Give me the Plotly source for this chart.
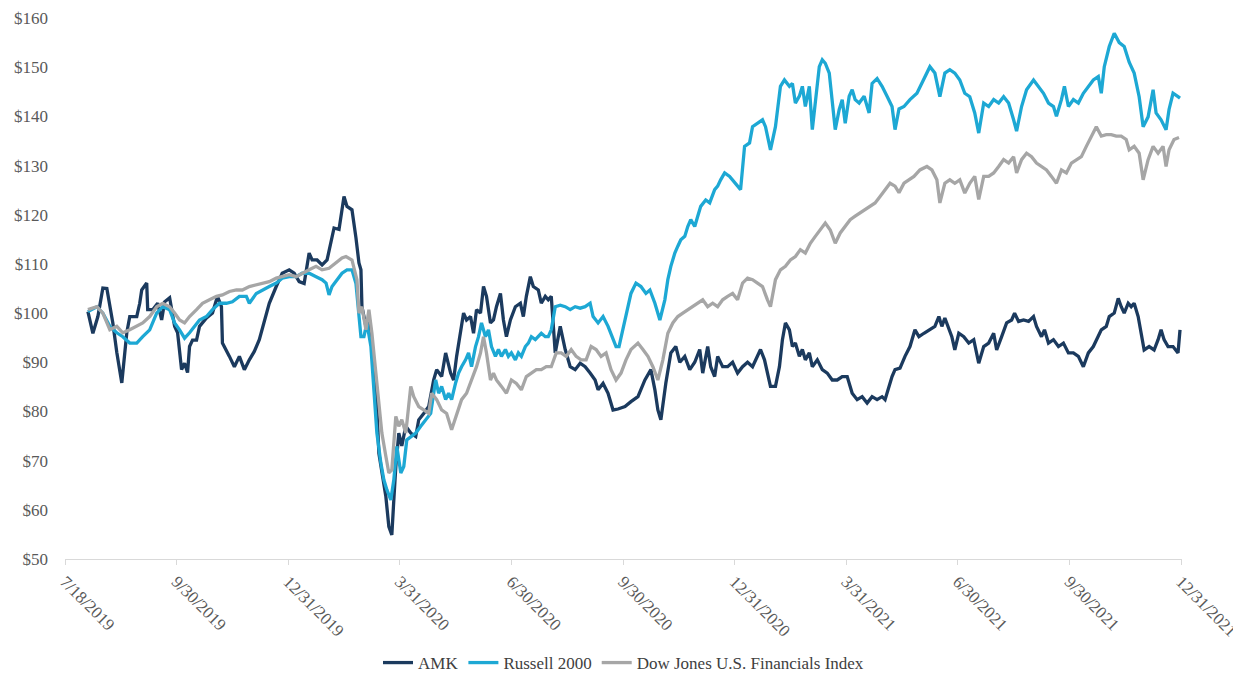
import plotly.graph_objects as go

# x positions: session index along the category axis (tick every 112 sessions)
tick_labels = ["7/18/2019", "9/30/2019", "12/31/2019", "3/31/2020", "6/30/2020",
               "9/30/2020", "12/31/2020", "3/31/2021", "6/30/2021", "9/30/2021", "12/31/2021"]
tick_step = 112

amk_day = [
    23, 28, 33, 38, 42, 45, 48, 52, 57, 62,
    65, 72, 75, 77, 82, 83, 88, 93, 97, 100,
    105, 110, 113, 117, 120, 123, 125, 128, 132, 135,
    142, 148, 153, 157, 158, 165, 170, 175, 180, 185,
    190, 195, 200, 205, 212, 218, 225, 230, 235, 240,
    245, 248, 253, 258, 263, 267, 270, 275, 280, 283,
    288, 292, 295, 297, 298, 302, 305, 308, 312, 315,
    318, 322, 325, 328, 330, 332, 335, 338, 342, 347,
    352, 355, 360, 365, 370, 373, 378, 382, 387, 390,
    393, 397, 400, 403, 407, 410, 413, 417, 420, 423,
    427, 430, 433, 437, 440, 443, 447, 452, 457, 460,
    463, 467, 470, 475, 478, 482, 485, 488, 492, 497,
    502, 507, 512, 517, 522, 527, 532, 535, 540, 545,
    550, 555, 562, 568, 575, 582, 588, 592, 595, 598,
    603, 608, 613, 617, 622, 627, 632, 637, 640, 645,
    648, 652, 655, 660, 665, 670, 675, 680, 685, 690,
    695, 698, 702, 705, 708, 713, 717, 720, 723, 727,
    730, 733, 737, 740, 743, 747, 750, 755, 760, 765,
    770, 775, 780, 785, 790, 795, 800, 805, 810, 815,
    820, 823, 827, 830, 833, 838, 843, 848, 853, 857,
    862, 868, 873, 877, 880, 883, 887, 890, 893, 897,
    902, 907, 912, 917, 922, 927, 932, 935, 940, 945,
    950, 953, 957, 962, 967, 972, 975, 980, 983, 987,
    992, 997, 1002, 1007, 1012, 1017, 1022, 1027, 1032, 1037,
    1040, 1045, 1048, 1053, 1057, 1060, 1063, 1067, 1070, 1073,
    1077, 1080, 1083, 1088, 1093, 1097, 1100, 1103, 1107, 1112,
    1117, 1119,
]
amk_value = [
    100.3, 95.9, 99.3, 105.1, 105.0, 101.3, 98.0, 92.0, 85.8, 96.0,
    99.3, 99.3, 102.0, 104.7, 106.1, 100.7, 100.7, 102.0, 98.6, 102.3,
    103.1, 97.3, 96.0, 88.5, 89.8, 87.9, 93.2, 94.5, 94.5, 97.3,
    99.0, 100.0, 103.4, 101.3, 93.9, 91.2, 89.1, 91.2, 88.5, 90.5,
    92.2, 94.6, 98.6, 102.0, 105.4, 108.1, 108.8, 108.1, 106.4, 106.0,
    112.2, 110.8, 110.8, 109.8, 110.8, 114.6, 117.3, 117.0, 123.7, 121.7,
    121.0, 115.3, 110.2, 108.8, 101.3, 97.3, 98.6, 93.2, 85.1, 71.5,
    67.5, 62.7, 56.6, 54.9, 62.0, 68.8, 75.6, 73.0, 77.0, 75.6,
    74.9, 78.3, 79.6, 81.0, 86.4, 88.5, 87.1, 91.9, 87.8, 86.4,
    91.2, 96.6, 100.0, 98.6, 99.3, 95.9, 100.7, 100.0, 105.4, 103.4,
    98.0, 98.6, 101.3, 104.0, 98.6, 95.2, 98.6, 101.3, 102.0, 99.3,
    103.4, 107.4, 105.4, 104.7, 102.0, 103.4, 102.7, 103.4, 91.9, 97.3,
    92.6, 89.1, 88.5, 89.8, 89.1, 87.8, 86.4, 84.4, 85.7, 83.7,
    80.3, 80.5, 81.0, 82.0, 83.0, 86.4, 88.5, 84.4, 80.3, 78.3,
    85.8, 91.9, 93.2, 90.0, 91.2, 88.5, 90.0, 92.6, 87.8, 93.2,
    89.1, 87.1, 91.2, 89.1, 89.1, 90.0, 87.8, 89.1, 90.0, 89.1,
    91.2, 92.6, 90.5, 87.8, 85.1, 85.1, 89.1, 94.6, 98.0, 96.6,
    93.2, 93.9, 91.2, 92.6, 90.5, 91.9, 89.1, 90.5, 88.5, 87.8,
    86.4, 86.4, 87.1, 87.1, 83.7, 82.4, 83.0, 81.7, 83.0, 82.4,
    83.0, 82.4, 85.1, 87.1, 88.5, 88.8, 91.2, 93.2, 96.6, 95.2,
    95.9, 96.6, 97.3, 99.3, 97.3, 99.0, 96.6, 95.2, 92.5, 95.9,
    95.2, 93.9, 94.6, 89.8, 93.2, 93.9, 95.9, 92.5, 95.2, 98.0,
    98.6, 100.0, 98.3, 98.6, 98.3, 99.3, 97.3, 95.2, 96.6, 93.9,
    94.6, 93.2, 93.9, 91.9, 91.9, 91.2, 89.1, 91.9, 93.2, 95.2,
    96.6, 97.3, 99.3, 100.0, 103.0, 101.3, 100.0, 102.0, 101.3, 102.0,
    99.3, 95.9, 92.5, 93.2, 92.5, 94.6, 96.6, 94.6, 93.2, 93.2,
    91.9, 96.6,
]

russell_day = [
    23, 32, 38, 45, 52, 58, 65, 72, 78, 85,
    92, 98, 105, 110, 115, 120, 125, 130, 135, 142,
    148, 155, 162, 168, 175, 182, 185, 192, 198, 205,
    212, 218, 225, 232, 238, 245, 252, 258, 262, 265,
    268, 273, 278, 283, 288, 292, 295, 297, 300, 303,
    307, 310, 313, 317, 320, 323, 327, 330, 333, 337,
    340, 343, 347, 352, 357, 362, 367, 372, 375, 378,
    382, 385, 388, 392, 395, 398, 402, 405, 408, 412,
    415, 418, 422, 425, 428, 432, 435, 438, 442, 445,
    448, 452, 455, 458, 462, 465, 468, 472, 475, 478,
    482, 485, 488, 492, 497, 502, 507, 512, 517, 522,
    527, 530, 535, 540, 545, 550, 553, 556, 562, 568,
    573, 578, 583, 587, 592, 597, 602, 605, 608, 612,
    615, 618, 622, 625, 628, 632, 635, 638, 643, 647,
    652, 655, 658, 662, 667, 672, 678, 682, 687, 690,
    695, 700, 703, 708, 713, 718, 722, 727, 730, 733,
    737, 740, 743, 747, 750, 753, 757, 760, 763, 767,
    770, 773, 777, 780, 783, 787, 790, 793, 797, 802,
    807, 810, 815, 820, 825, 830, 833, 837, 842, 848,
    855, 860, 865, 868, 873, 878, 883, 888, 893, 898,
    903, 908, 913, 917, 922, 927, 932, 937, 942, 947,
    952, 955, 960, 965, 972, 977, 982, 987, 992, 995,
    1000, 1003, 1007, 1012, 1017, 1022, 1027, 1032, 1037, 1040,
    1043, 1048, 1053, 1058, 1063, 1068, 1073, 1078, 1082, 1087,
    1092, 1095, 1100, 1105, 1108, 1112, 1117, 1119,
]
russell_value = [
    100.3, 101.3, 100.0, 97.3, 96.0, 95.2, 93.9, 93.9, 95.2, 96.6,
    100.0, 101.3, 100.7, 98.0, 96.6, 94.9, 96.0, 97.3, 98.6, 99.3,
    100.7, 102.0, 102.0, 102.3, 103.4, 103.4, 102.0, 104.0, 104.7, 105.4,
    106.1, 107.1, 107.4, 107.4, 108.1, 108.1, 107.4, 106.8, 106.1, 103.7,
    105.4, 106.8, 108.1, 108.8, 108.8, 106.0, 100.0, 95.2, 95.2, 98.0,
    93.2, 85.1, 75.6, 69.5, 66.1, 64.1, 62.0, 66.1, 72.9, 67.5,
    68.8, 74.2, 74.9, 75.6, 77.0, 78.3, 79.6, 86.4, 83.7, 85.1,
    82.4, 83.7, 82.4, 85.8, 87.8, 89.1, 90.5, 91.9, 89.1, 93.2,
    95.2, 98.0, 95.2, 96.6, 93.2, 91.2, 92.6, 91.2, 92.6, 91.2,
    91.9, 90.5, 91.9, 91.2, 93.2, 93.9, 95.2, 94.6, 95.2, 95.9,
    95.2, 95.2, 96.6, 101.3, 101.6, 101.3, 100.7, 101.3, 101.0, 101.3,
    102.0, 99.3, 98.0, 99.3, 97.3, 94.6, 93.2, 93.2, 98.6, 104.0,
    106.1, 105.4, 104.0, 104.7, 102.0, 98.6, 102.7, 106.8, 109.5, 112.2,
    113.6, 114.9, 115.6, 117.6, 119.0, 117.6, 119.7, 121.7, 123.0, 122.4,
    125.1, 125.8, 127.1, 128.5, 127.8, 126.5, 125.1, 133.9, 134.6, 137.9,
    138.6, 139.3, 137.9, 133.2, 137.9, 146.1, 147.4, 146.1, 146.7, 142.7,
    144.1, 146.1, 142.0, 146.1, 137.3, 143.4, 150.1, 151.5, 150.8, 148.8,
    142.7, 137.3, 141.4, 143.4, 138.6, 144.1, 145.4, 143.4, 142.7, 144.1,
    140.7, 146.7, 147.7, 146.1, 144.1, 142.0, 137.3, 141.5, 142.0, 143.4,
    144.7, 146.7, 148.8, 150.1, 148.8, 144.0, 148.8, 149.5, 148.8, 147.4,
    144.7, 144.0, 140.7, 136.6, 142.7, 142.0, 143.4, 142.7, 144.0, 142.7,
    139.3, 137.0, 142.0, 145.4, 147.4, 146.1, 144.7, 142.7, 142.0, 140.0,
    143.4, 146.1, 142.0, 143.4, 142.7, 144.7, 146.1, 147.4, 148.1, 144.7,
    150.1, 154.2, 156.9, 155.0, 154.2, 151.0, 148.8, 144.0, 137.9, 139.9,
    145.4, 140.7, 139.3, 137.3, 141.4, 144.7, 144.0, 143.7,
]

dow_day = [
    23, 32, 38, 45, 52, 58, 65, 72, 78, 85,
    92, 98, 105, 110, 115, 120, 125, 132, 138, 145,
    152, 158, 165, 172, 178, 185, 192, 198, 205, 212,
    218, 225, 232, 238, 245, 252, 258, 265, 272, 278,
    282, 288, 293, 295, 298, 302, 305, 308, 312, 315,
    318, 322, 325, 328, 332, 335, 338, 342, 347, 350,
    355, 360, 365, 368, 373, 378, 383, 388, 393, 398,
    403, 408, 413, 417, 420, 423, 427, 430, 433, 438,
    443, 448, 453, 458, 463, 468, 473, 478, 483, 488,
    493, 498, 503, 508, 513, 518, 523, 528, 533, 538,
    543, 548, 553, 558, 563, 568, 575, 580, 585, 590,
    595, 600, 605, 610, 615, 620, 625, 630, 635, 640,
    645, 650, 655, 660, 665, 670, 675, 680, 685, 690,
    695, 700, 705, 708, 713, 718, 723, 728, 733, 738,
    743, 748, 753, 758, 763, 768, 773, 778, 783, 788,
    793, 798, 803, 808, 813, 818, 823, 828, 833, 837,
    842, 847, 852, 858, 865, 870, 875, 878, 883, 888,
    893, 898, 903, 908, 913, 917, 922, 927, 932, 937,
    942, 947, 952, 955, 960, 965, 970, 975, 980, 985,
    990, 995, 1000, 1005, 1010, 1015, 1020, 1025, 1030, 1035,
    1040, 1045, 1050, 1055, 1060, 1065, 1068, 1073, 1078, 1082,
    1087, 1092, 1097, 1102, 1105, 1108, 1113, 1118,
]
dow_value = [
    100.7, 101.3, 100.0, 96.6, 97.3, 96.0, 96.6, 97.3, 98.0, 99.3,
    101.3, 102.0, 101.3, 100.0, 98.6, 98.0, 99.3, 100.7, 102.0, 102.7,
    103.4, 103.7, 104.4, 104.7, 104.7, 105.4, 105.7, 106.1, 106.4, 107.1,
    107.4, 107.8, 107.4, 108.1, 108.8, 109.5, 108.8, 109.1, 110.2, 111.2,
    111.5, 110.8, 106.8, 100.0, 101.3, 96.6, 100.7, 95.9, 87.8, 81.0,
    75.6, 70.9, 67.5, 68.1, 79.0, 77.0, 78.3, 75.6, 85.1, 83.0,
    81.0, 80.3, 79.6, 83.7, 82.4, 80.3, 79.6, 76.3, 79.6, 82.4,
    83.7, 86.4, 89.1, 91.9, 95.2, 91.9, 86.4, 87.8, 86.4, 85.1,
    83.7, 86.4, 85.7, 84.4, 87.1, 87.8, 88.5, 88.5, 89.1, 89.1,
    91.9, 91.9, 91.2, 92.6, 91.2, 90.5, 90.5, 93.2, 92.6, 91.2,
    91.9, 88.5, 86.4, 87.8, 90.5, 92.6, 93.9, 92.6, 91.2, 89.1,
    86.4, 90.5, 95.9, 98.0, 99.3, 100.0, 100.7, 101.3, 102.0, 102.7,
    101.3, 102.0, 101.3, 102.7, 103.4, 104.0, 102.7, 106.1, 107.1, 106.8,
    106.1, 105.4, 102.7, 101.3, 106.8, 108.8, 109.5, 110.8, 111.5, 112.9,
    112.2, 114.2, 115.6, 116.9, 118.3, 116.9, 114.2, 116.3, 117.6, 119.0,
    119.7, 120.4, 121.0, 121.7, 122.4, 123.7, 125.1, 126.4, 125.8, 124.5,
    126.4, 127.1, 127.8, 129.1, 129.8, 129.1, 127.1, 122.4, 126.4, 127.1,
    126.4, 127.1, 124.4, 126.4, 127.8, 123.1, 127.8, 127.8, 128.5, 129.8,
    131.2, 130.5, 131.8, 128.5, 131.2, 132.5, 131.8, 130.5, 129.8, 129.1,
    127.8, 126.4, 129.1, 128.5, 130.5, 131.2, 131.8, 133.9, 136.0, 137.9,
    136.0, 136.3, 136.3, 136.0, 136.0, 135.3, 133.2, 133.9, 132.5, 127.1,
    131.2, 133.9, 132.5, 133.9, 129.8, 133.2, 135.3, 135.7,
]

series_names = ["AMK", "Russell 2000", "Dow Jones U.S. Financials Index"]
series_colors = ["#1B3A5E", "#1DA8D4", "#A6A6A6"]
y_ticks = [50, 60, 70, 80, 90, 100, 110, 120, 130, 140, 150, 160]

SERIF = "Liberation Serif, Times New Roman, serif"

fig = go.Figure()
for name, color, xs, ys in zip(series_names, series_colors,
                               [amk_day, russell_day, dow_day],
                               [amk_value, russell_value, dow_value]):
    fig.add_trace(go.Scatter(x=xs, y=ys, mode="lines", name=name,
                             line=dict(color=color, width=3.3)))

tick_vals = [i * tick_step for i in range(len(tick_labels))]

# page body has an 8px default margin: figure sized to fit the window exactly
fig.update_layout(
    width=1233, height=665,
    margin=dict(l=57, r=59, t=10, b=114),
    paper_bgcolor="white", plot_bgcolor="white",
    showlegend=True,
    legend=dict(orientation="h", x=0.5, xanchor="center",
                yref="container", y=0.015, yanchor="middle",
                font=dict(family=SERIF, size=17, color="#404040"),
                itemwidth=30, traceorder="normal"),
    xaxis=dict(range=[0, tick_vals[-1] + 1], tickmode="array", tickvals=tick_vals,
               ticktext=tick_labels, tickangle=45, showgrid=False, zeroline=False,
               showline=True, linecolor="#D9D9D9", linewidth=1,
               ticks="outside", ticklen=5, tickcolor="#D9D9D9", automargin=False,
               tickfont=dict(family=SERIF, size=17, color="#595959")),
    yaxis=dict(range=[50, 160], tickmode="array", tickvals=y_ticks,
               ticktext=["$%d" % v for v in y_ticks],
               showgrid=False, zeroline=False, showline=False, ticks="",
               ticklabelstandoff=16, automargin=False,
               tickfont=dict(family=SERIF, size=17, color="#595959")),
)

fig.write_html("out.html")
